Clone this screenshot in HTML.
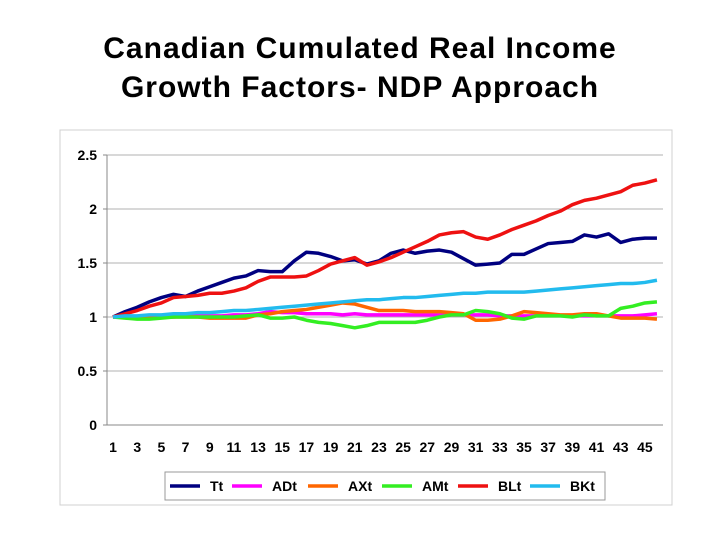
<!DOCTYPE html>
<html><head><meta charset="utf-8"><style>
body{margin:0;background:#fff;}
svg text{font-family:"Liberation Sans",Arial,sans-serif;}
</style></head><body>
<svg width="720" height="540">
<text x="360" y="58" text-anchor="middle" font-size="30" font-weight="bold" letter-spacing="1">Canadian Cumulated Real Income</text>
<text x="360" y="97" text-anchor="middle" font-size="30" font-weight="bold" letter-spacing="1">Growth Factors- NDP Approach</text>
<rect x="60" y="130" width="612" height="375" fill="#fff" stroke="#d0d0d0"/>
<g id="grid"></g><g id="axes"></g><g id="series"></g><g id="legend"></g>
</svg>
<script>
const yTicks=[0,0.5,1,1.5,2,2.5];
const yTickLabels=["0","0.5","1","1.5","2","2.5"];
const seriesNames=["Tt","ADt","AXt","AMt","BLt","BKt"];
const seriesColors=["#000080","#ff00ff","#ff6600","#33ee22","#ee1111","#22bbee"];
const Tt=[1.0,1.05,1.09,1.14,1.18,1.21,1.19,1.24,1.28,1.32,1.36,1.38,1.43,1.42,1.42,1.52,1.60,1.59,1.56,1.52,1.53,1.49,1.52,1.59,1.62,1.59,1.61,1.62,1.60,1.54,1.48,1.49,1.50,1.58,1.58,1.63,1.68,1.69,1.70,1.76,1.74,1.77,1.69,1.72,1.73,1.73];
const ADt=[1.0,1.0,1.0,1.0,1.0,1.0,1.01,1.01,1.01,1.01,1.02,1.02,1.03,1.05,1.04,1.04,1.03,1.03,1.03,1.02,1.03,1.02,1.02,1.02,1.02,1.02,1.02,1.02,1.02,1.02,1.02,1.02,1.01,1.01,1.01,1.01,1.01,1.01,1.01,1.01,1.01,1.01,1.01,1.01,1.02,1.03];
const AXt=[1.0,1.0,1.0,1.0,1.0,1.0,1.0,1.0,0.99,0.99,0.99,0.99,1.02,1.03,1.05,1.06,1.07,1.09,1.11,1.13,1.12,1.09,1.06,1.06,1.06,1.05,1.05,1.05,1.04,1.03,0.97,0.97,0.98,1.01,1.05,1.04,1.03,1.02,1.02,1.03,1.03,1.01,0.99,0.99,0.99,0.98];
const AMt=[1.0,0.99,0.98,0.98,0.99,1.0,1.0,1.0,1.0,1.0,1.0,1.01,1.02,0.99,0.99,1.0,0.97,0.95,0.94,0.92,0.90,0.92,0.95,0.95,0.95,0.95,0.97,1.0,1.02,1.02,1.06,1.05,1.03,0.99,0.98,1.01,1.01,1.01,1.0,1.02,1.01,1.01,1.08,1.10,1.13,1.14];
const BLt=[1.0,1.03,1.06,1.10,1.13,1.18,1.19,1.20,1.22,1.22,1.24,1.27,1.33,1.37,1.37,1.37,1.38,1.43,1.49,1.52,1.55,1.48,1.51,1.55,1.60,1.65,1.70,1.76,1.78,1.79,1.74,1.72,1.76,1.81,1.85,1.89,1.94,1.98,2.04,2.08,2.10,2.13,2.16,2.22,2.24,2.27];
const BKt=[1.0,1.01,1.01,1.02,1.02,1.03,1.03,1.04,1.04,1.05,1.06,1.06,1.07,1.08,1.09,1.10,1.11,1.12,1.13,1.14,1.15,1.16,1.16,1.17,1.18,1.18,1.19,1.20,1.21,1.22,1.22,1.23,1.23,1.23,1.23,1.24,1.25,1.26,1.27,1.28,1.29,1.30,1.31,1.31,1.32,1.34];
const allSeries=[Tt,ADt,AXt,AMt,BLt,BKt];
const NS="http://www.w3.org/2000/svg";
const x0=107,x1=663,yTop=155,yBot=425,yMax=2.5;
const n=Tt.length;
function xs(i){return x0+(x1-x0)*(i+0.5)/n;}
function ys(v){return yBot-(yBot-yTop)*v/yMax;}
function mk(tag,attrs,parent){const e=document.createElementNS(NS,tag);for(const k in attrs)e.setAttribute(k,attrs[k]);parent.appendChild(e);return e;}
const grid=document.getElementById('grid'),axes=document.getElementById('axes'),ser=document.getElementById('series'),leg=document.getElementById('legend');
yTicks.forEach((t,k)=>{
  if(t>0){const g=mk('line',{x1:x0,x2:x1,y1:ys(t),y2:ys(t),stroke:'#b0b0b0','stroke-width':1},grid);
  
  }
  const tk=mk('line',{x1:x0-4,x2:x0,y1:ys(t),y2:ys(t),stroke:'#888'},axes);
  
  
  const lb=mk('text',{x:x0-10,y:ys(t)+5,'text-anchor':'end','font-size':14,'font-weight':'bold'},axes);
  lb.textContent=yTickLabels[k];
  
  
});
const ya=mk('line',{x1:x0,x2:x0,y1:yTop,y2:yBot,stroke:'#888'},axes);


const xa=mk('line',{x1:x0,x2:x1,y1:yBot,y2:yBot,stroke:'#888'},axes);


for(let i=0;i<n;i+=2){
  const lb=mk('text',{x:xs(i),y:yBot+27,'text-anchor':'middle','font-size':14,'font-weight':'bold'},axes);
  lb.textContent=String(i+1);
  
  
}
allSeries.forEach((s,k)=>{
  const p=mk('polyline',{points:s.map((v,i)=>xs(i)+','+ys(v)).join(' '),fill:'none',stroke:seriesColors[k],'stroke-width':3.5,'stroke-linejoin':'round'},ser);
  
  
});
const lbox=mk('rect',{x:165,y:472,width:440,height:28,fill:'#fff',stroke:'#999'},leg);


const textX=[210,272,348,422,498,570];
seriesNames.forEach((nm,k)=>{
  const l=mk('line',{x1:textX[k]-40,x2:textX[k]-10,y1:486,y2:486,stroke:seriesColors[k],'stroke-width':3.5},leg);
  
  
  const t=mk('text',{x:textX[k],y:491,'font-size':14,'font-weight':'bold'},leg);
  t.textContent=nm;
  
  
});
</script>
</body></html>
